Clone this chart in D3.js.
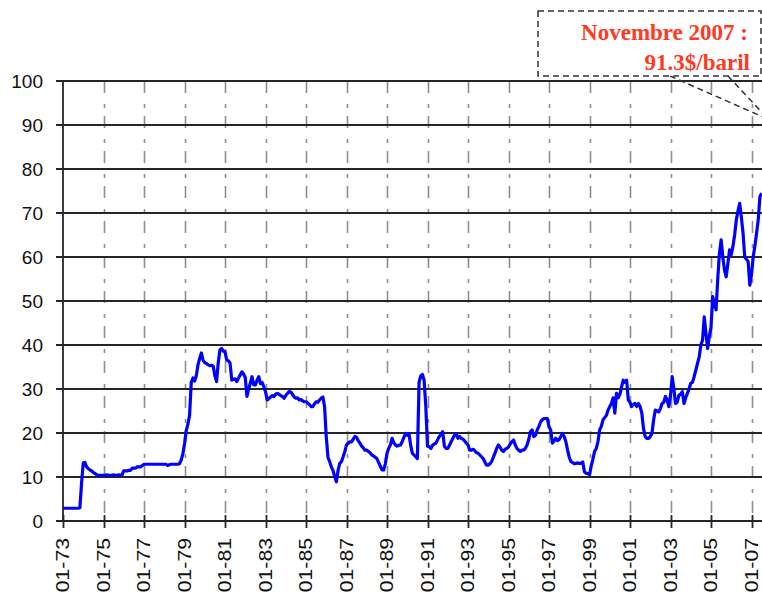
<!DOCTYPE html>
<html>
<head>
<meta charset="utf-8">
<script src="https://cdn.jsdelivr.net/npm/d3@7"></script>
<style>
  html, body { margin: 0; padding: 0; background: #ffffff; }
  svg { display: block; }
</style>
</head>
<body>
<svg id="chart" width="762" height="595"></svg>
<script>
// ---------- DATA (monthly oil price, $/barrel, starting Jan 1973) ----------
const startYear = 1973;
const prices1970s = [
  2.9, 2.9, 2.9, 2.9, 2.9, 2.9, 2.9, 2.9, 2.9, 2.9, 3.0, 8.6,          // 1973
  13.2, 13.3, 12.3, 11.9, 11.6, 11.4, 11.0, 10.8, 10.5, 10.4, 10.4, 10.4, // 1974
  10.4, 10.4, 10.5, 10.4, 10.4, 10.4, 10.5, 10.4, 10.4, 10.5, 10.4, 10.5, // 1975
  11.4, 11.4, 11.4, 11.5, 11.5, 12.0, 12.0, 12.0, 12.3, 12.3, 12.3, 12.6, // 1976
  12.9, 12.9, 12.9, 12.9, 12.9, 12.9, 12.9, 12.9, 12.9, 12.9, 12.9, 12.9, // 1977
  12.9, 12.9, 12.6, 12.8, 12.9, 12.9, 12.9, 12.9, 12.9, 13.0, 13.8, 15.2, // 1978
  17.5, 20.5, 22.0, 24.0, 31.5, 32.5, 31.8, 33.0, 35.5, 37.0, 38.2, 36.5  // 1979
];
const prices1980s = [
  36.0, 35.8, 35.5, 35.3, 35.4, 35.2, 33.0, 31.7, 36.0, 38.9, 39.2, 38.6, // 1980
  38.5, 36.6, 36.4, 35.9, 32.0, 32.2, 32.3, 31.7, 32.5, 33.2, 33.9, 33.4, // 1981
  32.6, 28.3, 30.0, 31.3, 32.8, 31.0, 30.9, 32.0, 32.8, 31.2, 31.5, 30.5, // 1982
  29.4, 27.5, 27.8, 28.2, 28.5, 28.3, 28.8, 29.0, 28.8, 28.5, 28.3, 27.9, // 1983
  28.5, 29.0, 29.4, 29.3, 28.8, 28.2, 27.9, 28.0, 27.5, 27.6, 27.3, 27.1, // 1984
  27.1, 26.8, 26.5, 26.0, 26.0, 26.6, 27.1, 27.0, 27.5, 27.9, 28.2, 26.0, // 1985
  19.2, 14.5, 13.5, 12.3, 11.5, 10.1, 8.9, 11.5, 13.1, 13.5, 14.6, 15.8,  // 1986
  17.3, 17.7, 18.0, 18.0, 18.6, 19.2, 19.0, 18.2, 17.7, 17.0, 16.6, 16.1, // 1987
  16.1, 15.8, 15.5, 15.0, 14.8, 14.5, 14.2, 13.3, 12.5, 11.6, 11.6, 13.0, // 1988
  15.4, 16.5, 17.3, 18.8, 17.8, 17.3, 17.0, 17.2, 17.3, 18.0, 19.0, 19.9  // 1989
];
const prices1990s = [
  19.5, 19.9, 17.3, 15.4, 15.0, 14.6, 14.2, 31.5, 33.0, 33.3, 32.0, 26.0, // 1990
  17.0, 16.9, 16.5, 17.2, 17.5, 17.7, 18.5, 19.2, 19.8, 20.3, 17.0, 16.5, // 1991
  16.5, 17.2, 18.0, 18.8, 19.5, 19.8, 18.8, 19.2, 18.8, 18.6, 18.2, 17.7, // 1992
  17.3, 16.1, 16.1, 16.3, 16.0, 15.5, 15.4, 15.0, 14.6, 14.2, 13.4, 12.7, // 1993
  12.7, 13.0, 13.5, 14.5, 15.4, 16.5, 17.3, 16.8, 16.1, 15.8, 16.3, 16.5, // 1994
  16.8, 17.5, 18.0, 18.4, 17.3, 16.5, 16.1, 15.8, 16.1, 16.1, 16.5, 17.3, // 1995
  18.5, 20.3, 20.7, 19.2, 19.5, 20.7, 21.5, 22.5, 23.0, 23.3, 23.3, 23.3, // 1996
  21.4, 20.7, 17.7, 18.2, 18.8, 18.3, 18.5, 19.2, 19.9, 19.2, 18.0, 16.1, // 1997
  14.5, 13.5, 13.3, 13.0, 13.1, 13.2, 13.1, 13.1, 13.4, 11.2, 10.8, 10.8, // 1998
  10.5, 12.5, 14.0, 15.8, 16.5, 18.0, 20.7, 21.5, 23.0, 23.5, 24.0, 25.2  // 1999
];
const prices2000s = [
  26.0, 26.7, 28.0, 24.5, 29.0, 28.0, 28.8, 30.5, 32.0, 31.5, 32.0, 27.5, // 2000
  27.0, 26.0, 26.5, 26.7, 26.0, 26.7, 26.0, 24.5, 21.0, 19.2, 18.8, 18.8, // 2001
  19.2, 19.9, 23.0, 25.2, 25.0, 24.8, 25.5, 26.7, 27.0, 28.3, 27.5, 26.0, // 2002
  28.5, 32.8, 30.0, 26.7, 27.0, 28.6, 28.8, 29.4, 26.7, 28.0, 29.0, 30.0, // 2003
  31.3, 31.5, 32.8, 34.3, 35.8, 37.3, 40.0, 41.1, 46.4, 42.7, 39.2, 42.0, // 2004
  44.0, 51.0, 49.5, 48.0, 55.0, 60.8, 63.9, 60.0, 57.0, 55.5, 58.5, 61.6, // 2005
  60.5, 62.4, 65.0, 68.4, 70.5, 72.2, 69.0, 65.4, 60.0, 59.5, 59.0, 53.6, // 2006
  56.0, 60.0, 62.5, 65.4, 68.5, 73.7, 74.5                                // 2007
];
const yTicks = [0, 10, 20, 30, 40, 50, 60, 70, 80, 90, 100];
const xTickLabels = ["01-73","01-75","01-77","01-79","01-81","01-83","01-85","01-87",
                     "01-89","01-91","01-93","01-95","01-97","01-99","01-01","01-03",
                     "01-05","01-07"];
const annotationLines = ["Novembre 2007 :", "91.3$/baril"];
const annotationYear = 2007, annotationMonth = 11, annotationValue = 91.3;

// ---------- BUILD ----------
const prices = [].concat(prices1970s, prices1980s, prices1990s, prices2000s);
const series = prices.map((v, i) => ({ m: i, v: v }));
const annM = (annotationYear - startYear) * 12 + (annotationMonth - 1);
const xTicks = xTickLabels.map((lab, i) => ({ m: i * 24, label: lab }));

const svg = d3.select("#chart");
const plotLeft = 63, plotTop = 81, plotBottom = 521, plotRight = 762;
const x = d3.scaleLinear().domain([0, annM]).range([plotLeft, plotLeft + annM * 20.25 / 12]);
const y = d3.scaleLinear().domain([0, 100]).range([plotBottom, plotTop]);

// vertical dashed grid
svg.append("g").selectAll("line").data(xTicks.filter(d => d.m > 0)).join("line")
  .attr("x1", d => Math.round(x(d.m)) + 0.5).attr("x2", d => Math.round(x(d.m)) + 0.5)
  .attr("y1", plotTop).attr("y2", plotBottom)
  .attr("stroke", "#8f8f8f").attr("stroke-width", 1.6)
  .attr("stroke-dasharray", "12,11,4,8");

// horizontal grid lines (with left tick extension)
svg.append("g").selectAll("line").data(yTicks).join("line")
  .attr("x1", plotLeft - 7).attr("x2", plotRight)
  .attr("y1", d => y(d)).attr("y2", d => y(d))
  .attr("stroke", "#262626").attr("stroke-width", 1.8);

// y axis line
svg.append("line").attr("x1", plotLeft).attr("x2", plotLeft).attr("y1", plotTop).attr("y2", plotBottom + 1)
  .attr("stroke", "#262626").attr("stroke-width", 1.8);

// x tick marks
svg.append("g").selectAll("line").data(xTicks).join("line")
  .attr("x1", d => Math.round(x(d.m)) + 0.5).attr("x2", d => Math.round(x(d.m)) + 0.5)
  .attr("y1", plotBottom - 6).attr("y2", plotBottom + 7)
  .attr("stroke", "#262626").attr("stroke-width", 1.8);

// y tick labels
svg.append("g").selectAll("text").data(yTicks).join("text")
  .attr("x", 43).attr("y", d => y(d) + 7)
  .attr("text-anchor", "end")
  .attr("font-family", "'Liberation Sans', Arial, sans-serif")
  .attr("font-size", 19).attr("fill", "#111")
  .text(d => d);

// x tick labels (rotated)
svg.append("g").selectAll("text").data(xTicks).join("text")
  .attr("transform", d => `translate(${x(d.m) + 6},538) rotate(-90) scale(1.18,1)`)
  .attr("text-anchor", "end")
  .attr("font-family", "'Liberation Sans', Arial, sans-serif")
  .attr("font-size", 18).attr("fill", "#111")
  .text(d => d.label);

// price line
const line = d3.line().x(d => x(d.m)).y(d => y(d.v)).curve(d3.curveLinear);
svg.append("path").datum(series)
  .attr("d", line)
  .attr("fill", "none").attr("stroke", "#0000ff").attr("stroke-width", 3.2)
  .attr("stroke-linejoin", "round");

// annotation box
const box = { x0: 538, y0: 11, x1: 761, y1: 76 };
const ax = x(annM), ay = y(annotationValue);
svg.append("g").selectAll("line").data([670, 728]).join("line")
  .attr("x1", d => d).attr("y1", box.y1)
  .attr("x2", ax).attr("y2", ay)
  .attr("stroke", "#333").attr("stroke-width", 1.5).attr("stroke-dasharray", "6,4");
svg.append("rect")
  .attr("x", box.x0).attr("y", box.y0).attr("width", box.x1 - box.x0).attr("height", box.y1 - box.y0)
  .attr("fill", "#ffffff").attr("stroke", "#333").attr("stroke-width", 1.5)
  .attr("stroke-dasharray", "6,4");
svg.append("g").selectAll("text").data(annotationLines).join("text")
  .attr("x", (d, i) => i === 0 ? 748 : 750)
  .attr("y", (d, i) => 40 + i * 30)
  .attr("text-anchor", "end")
  .attr("font-family", "'Liberation Serif', 'Times New Roman', serif")
  .attr("font-weight", "bold").attr("font-size", 23)
  .attr("fill", "#ff3a1e")
  .text(d => d);
</script>
</body>
</html>
